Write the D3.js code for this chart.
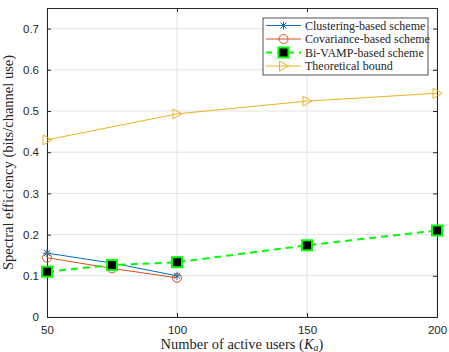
<!DOCTYPE html>
<html>
<head>
<meta charset="utf-8">
<script src="https://cdn.jsdelivr.net/npm/d3@7"></script>
<style>
  body { margin: 0; background: #fff; }
</style>
</head>
<body>
<svg id="chart" width="449" height="352"></svg>
<script>
const xTicks = [50, 100, 150, 200];
const yTicks = [0, 0.1, 0.2, 0.3, 0.4, 0.5, 0.6, 0.7];

const clusterX = [50, 75, 100];
const clusterY = [0.155, 0.131, 0.1];
const covX = [50, 75, 100];
const covY = [0.144, 0.118, 0.095];
const vampX = [50, 75, 100, 150, 200];
const vampY = [0.11, 0.126, 0.133, 0.174, 0.21];
const boundX = [50, 100, 150, 200];
const boundY = [0.43, 0.493, 0.524, 0.543];

const legendNames = ["Clustering-based scheme", "Covariance-based scheme", "Bi-VAMP-based scheme", "Theoretical bound"];

const width = 449;
const height = 352;
const margin = { left: 47, right: 12, top: 8, bottom: 35 };
const SANS = "Liberation Sans";
const SERIF = "Liberation Serif";

const svg = d3.select("#chart");

const x = d3.scaleLinear().domain([50, 200]).range([margin.left, width - margin.right]);
const y = d3.scaleLinear().domain([0, 0.75]).range([height - margin.bottom, margin.top]);

// grid
const grid = svg.append("g").attr("stroke", "#e3e3e3").attr("stroke-width", 1);
grid.selectAll("line.gx")
  .data(xTicks)
  .join("line")
  .attr("class", "gx")
  .attr("x1", (d) => x(d)).attr("x2", (d) => x(d))
  .attr("y1", y(0)).attr("y2", y(0.75));
grid.selectAll("line.gy")
  .data(yTicks)
  .join("line")
  .attr("class", "gy")
  .attr("x1", x(50)).attr("x2", x(200))
  .attr("y1", (d) => y(d)).attr("y2", (d) => y(d));

// axes (ticks inward, box on)
const tickLen = 4;
const axisColor = "#262626";
const bottomAxis = svg.append("g")
  .attr("transform", `translate(0,${y(0)})`)
  .call(d3.axisBottom(x).tickValues(xTicks).tickSize(-tickLen).tickPadding(9).tickFormat(d3.format("d")));
const leftAxis = svg.append("g")
  .attr("transform", `translate(${x(50)},0)`)
  .call(d3.axisLeft(y).tickValues(yTicks).tickSize(-tickLen).tickPadding(8).tickFormat((d) => (d === 0 ? "0" : d3.format(".1f")(d))));
const topAxis = svg.append("g")
  .attr("transform", `translate(0,${y(0.75)})`)
  .call(d3.axisTop(x).tickValues(xTicks).tickSize(-tickLen).tickFormat(""));
const rightAxis = svg.append("g")
  .attr("transform", `translate(${x(200)},0)`)
  .call(d3.axisRight(y).tickValues(yTicks).tickSize(-tickLen).tickFormat(""));

[bottomAxis, leftAxis, topAxis, rightAxis].forEach((a) => {
  a.attr("font-family", SANS).attr("font-size", 11.5);
  a.select(".domain").attr("stroke", axisColor).attr("stroke-width", 1);
  a.selectAll(".tick line").attr("stroke", axisColor);
  a.selectAll(".tick text").attr("fill", axisColor);
});

// series
const line = d3.line().x((d) => x(d[0])).y((d) => y(d[1]));
const zip = (xs, ys) => xs.map((v, i) => [v, ys[i]]);

const series = [
  { pts: zip(clusterX, clusterY), color: "#0072BD", dash: null, width: 1, marker: "star" },
  { pts: zip(covX, covY), color: "#D95319", dash: null, width: 1, marker: "circle" },
  { pts: zip(vampX, vampY), color: "#00FF00", dash: "7,5", width: 2, marker: "square" },
  { pts: zip(boundX, boundY), color: "#EDB120", dash: null, width: 1, marker: "tri" },
];

function drawMarker(g, type, color, cx, cy) {
  if (type === "star") {
    const r = 4;
    const m = g.append("g").attr("stroke", color).attr("stroke-width", 1);
    m.append("line").attr("x1", cx - r).attr("x2", cx + r).attr("y1", cy).attr("y2", cy);
    m.append("line").attr("x1", cx).attr("x2", cx).attr("y1", cy - r).attr("y2", cy + r);
    m.append("line").attr("x1", cx - 3).attr("x2", cx + 3).attr("y1", cy - 3).attr("y2", cy + 3);
    m.append("line").attr("x1", cx - 3).attr("x2", cx + 3).attr("y1", cy + 3).attr("y2", cy - 3);
  } else if (type === "circle") {
    g.append("circle").attr("cx", cx).attr("cy", cy).attr("r", 4.5)
      .attr("fill", "none").attr("stroke", color).attr("stroke-width", 1);
  } else if (type === "square") {
    g.append("rect").attr("x", cx - 5).attr("y", cy - 5).attr("width", 10).attr("height", 10)
      .attr("fill", "#000").attr("stroke", color).attr("stroke-width", 2);
  } else if (type === "tri") {
    g.append("path")
      .attr("d", `M${cx - 4},${cy - 5}L${cx + 5},${cy}L${cx - 4},${cy + 5}Z`)
      .attr("fill", "none").attr("stroke", color).attr("stroke-width", 1);
  }
}

series.forEach((s) => {
  const g = svg.append("g");
  g.append("path")
    .datum(s.pts)
    .attr("d", line)
    .attr("fill", "none")
    .attr("stroke", s.color)
    .attr("stroke-width", s.width)
    .attr("stroke-dasharray", s.dash);
  s.pts.forEach((p) => drawMarker(g, s.marker, s.color, x(p[0]), y(p[1])));
});

// legend
const lg = svg.append("g").attr("transform", "translate(263,18)");
lg.append("rect").attr("width", 165).attr("height", 57)
  .attr("fill", "#fff").attr("stroke", axisColor).attr("stroke-width", 0.8);
series.forEach((s, i) => {
  const cy = 7.5 + i * 13.5;
  lg.append("line").attr("x1", 3).attr("x2", 38).attr("y1", cy).attr("y2", cy)
    .attr("stroke", s.color).attr("stroke-width", s.width).attr("stroke-dasharray", s.dash ? "6,5" : null);
  drawMarker(lg, s.marker, s.color, 20.5, cy);
  lg.append("text").style("font-family", SERIF).attr("fill", axisColor)
    .attr("x", 42).attr("y", cy + 4)
    .attr("font-size", 12).text(legendNames[i]);
});

// axis labels
svg.append("text").style("font-family", SERIF).attr("fill", axisColor)
  .attr("x", (x(50) + x(200)) / 2).attr("y", 349)
  .attr("text-anchor", "middle").attr("font-size", 14.5)
  .html('Number of active users (<tspan font-style="italic">K</tspan><tspan font-style="italic" font-size="10" dy="2">a</tspan><tspan dy="-2">)</tspan>');

svg.append("text").style("font-family", SERIF).attr("fill", axisColor)
  .attr("transform", `translate(13,${(y(0) + y(0.75)) / 2}) rotate(-90)`)
  .attr("text-anchor", "middle").attr("font-size", 14.5)
  .text("Spectral efficiency (bits/channel use)");
</script>
</body>
</html>
